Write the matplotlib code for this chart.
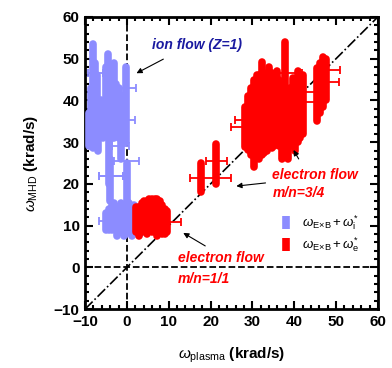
import numpy as np
import matplotlib
matplotlib.use("Agg")
import matplotlib.pyplot as plt
from matplotlib.ticker import MultipleLocator

plt.rcParams['font.family'] = ['Liberation Sans', 'DejaVu Sans']
plt.rcParams['mathtext.fontset'] = 'custom'
plt.rcParams['mathtext.rm'] = 'Liberation Sans'
plt.rcParams['mathtext.it'] = 'Liberation Sans:italic'
plt.rcParams['mathtext.bf'] = 'Liberation Sans:bold'

BLUE = '#8c8cff'
RED = '#ff0000'

# ion flow (blue) - vertical error bars: x, y, yerr
ion_vx = [-8.1, -8.6, -9.0, -7.6, -7.2, -6.8, -6.3, -5.6, -5.0, -4.5, -4.2, -3.6, -3.1,
          -2.6, -2.0, -1.5, -0.9, -0.3, 0.0, -4.0,
          -5.0, -4.3, -3.6, -3.0, -2.4, -2.0, -1.4, -0.8, -0.2, 0.5, 1.2, 1.8,
          2.5, 3.2, 3.8, 4.5]
ion_vy = [41.0, 36.0, 33.0, 44.0, 38.0, 33.0, 36.0, 34.0, 40.0, 42.5, 28.0, 36.0, 40.0,
          38.0, 37.0, 29.0, 36.0, 39.0, 20.0, 21.0,
          11.0, 11.5, 12.0, 12.5, 11.0, 11.5, 12.0, 11.0, 11.5, 12.5, 11.0, 12.0,
          11.5, 10.5, 11.0, 11.0]
ion_vyerr = [12.5, 7.0, 4.0, 5.0, 8.0, 5.0, 4.0, 3.0, 8.0, 8.5, 8.0, 5.0, 9.0,
             6.0, 6.0, 3.0, 5.0, 9.0, 5.0, 5.0,
             2.0, 2.5, 3.0, 3.0, 3.5, 2.5, 3.5, 3.5, 3.5, 3.0, 3.5, 3.0,
             3.0, 2.5, 2.0, 1.8]
# ion flow (blue) - horizontal error bars: x, y, xerr
ion_hx = [-7.5, -3.8, -0.5, -0.5, -1.5, -0.2, -3.8, -5.0, 3.5, -2.5]
ion_hy = [46.6, 21.8, 43.0, 35.4, 29.0, 25.4, 21.8, 11.0, 11.0, 10.8]
ion_hxerr = [1.8, 2.9, 2.6, 2.4, 2.0, 3.0, 2.9, 1.6, 1.5, 1.5]

# electron flow (red) - vertical error bars: x, y, yerr
el_vx = [2.2, 3.0, 3.6, 4.2, 4.8, 5.4, 6.0, 6.6, 7.2, 7.8, 8.4, 9.0, 9.6,
         17.8, 21.4,
         28.3, 29.0, 29.7, 30.4, 31.0, 31.6, 32.2, 32.8, 33.4, 34.0, 34.6, 35.2,
         35.8, 36.4, 37.0, 37.9, 38.5, 39.1, 39.7, 40.3, 40.9, 41.5, 42.0,
         45.5, 46.2, 46.9, 47.5]
el_vy = [11.5, 11.0, 12.0, 12.5, 12.0, 13.0, 12.5, 12.5, 12.0, 12.5, 11.5, 11.0, 11.0,
         21.5, 24.7,
         33.7, 34.6, 35.0, 34.5, 37.0, 36.0, 38.1, 37.0, 36.0, 39.0, 37.5, 37.0,
         38.5, 37.0, 35.0, 45.5, 33.0, 36.0, 37.7, 36.0, 38.5, 38.5, 39.0,
         41.4, 43.0, 44.5, 45.0]
el_vyerr = [3.0, 3.5, 3.5, 3.5, 4.0, 3.5, 4.0, 4.0, 4.5, 3.5, 3.5, 3.0, 2.5,
            3.5, 4.8,
            4.8, 6.4, 8.0, 10.5, 9.0, 10.0, 11.1, 9.5, 8.0, 9.0, 9.0, 8.0,
            8.5, 8.0, 9.0, 8.5, 7.0, 7.0, 7.7, 8.0, 8.5, 7.5, 7.0,
            6.4, 6.0, 6.0, 5.0]
# electron flow (red) - horizontal error bars: x, y, xerr
el_hx = [10.5, 21.4, 20.0, 26.6, 27.2, 38.7, 49.2, 49.0, 43.5, 43.5]
el_hy = [10.8, 25.4, 21.5, 33.7, 35.2, 46.6, 47.4, 44.5, 42.0, 39.7]
el_hxerr = [2.4, 2.6, 4.8, 1.7, 1.3, 3.2, 1.8, 1.8, 1.5, 1.5]

fig = plt.figure(figsize=(3.92, 3.68), dpi=100)
ax = fig.add_axes([0.217, 0.16, 0.747, 0.794])

# reference lines
ax.axvline(0, color='black', ls='--', lw=1.3, zorder=1)
ax.axhline(0, color='black', ls='--', lw=1.3, zorder=1)
ax.plot([-10, 60], [-10, 60], color='black', ls='-.', lw=1.2, zorder=1)

def draw(vx, vy, vyerr, hx, hy, hxerr, color, label):
    ax.errorbar(hx, hy, xerr=hxerr, fmt='none', ecolor=color, elinewidth=1.3,
                capsize=3, capthick=1.3, zorder=2)
    eb = ax.errorbar(vx, vy, yerr=vyerr, fmt='none', ecolor=color, elinewidth=5.5,
                     capsize=0, zorder=3, label=label)
    eb[2][0].set_capstyle('round')
    return eb

h1 = draw(ion_vx, ion_vy, ion_vyerr, ion_hx, ion_hy, ion_hxerr, BLUE,
          r'$\omega_{\mathrm{E\!\times\!B}}\,$+$\,\omega^{*}_{\mathrm{i}}$')
h2 = draw(el_vx, el_vy, el_vyerr, el_hx, el_hy, el_hxerr, RED,
          r'$\omega_{\mathrm{E\!\times\!B}}\,$+$\,\omega^{*}_{\mathrm{e}}$')

# annotations
ax.text(16.7, 53.3, 'ion flow (Z=1)', color='#1a1aa0', fontsize=10,
        fontweight='bold', style='italic', ha='center', va='center')
ax.annotate('', xy=(1.7, 46.2), xytext=(9.3, 50.2),
            arrowprops=dict(arrowstyle='-|>', color='black', lw=0.8, mutation_scale=8))

ax.text(34.8, 20, 'electron flow\nm/n=3/4', color=RED, fontsize=10,
        fontweight='bold', style='italic', ha='left', va='center', linespacing=1.3)
ax.annotate('', xy=(25.5, 19.4), xytext=(33.8, 20.3),
            arrowprops=dict(arrowstyle='-|>', color='black', lw=0.8, mutation_scale=8))
ax.annotate('', xy=(39.5, 28.7), xytext=(41.4, 25.4),
            arrowprops=dict(arrowstyle='-|>', color='black', lw=0.8, mutation_scale=8))

ax.text(12.1, -0.2, 'electron flow\nm/n=1/1', color=RED, fontsize=10,
        fontweight='bold', style='italic', ha='left', va='center', linespacing=1.6)
ax.annotate('', xy=(12.9, 8.6), xytext=(19.3, 4.8),
            arrowprops=dict(arrowstyle='-|>', color='black', lw=0.8, mutation_scale=8))

ax.legend(handles=[h1, h2], loc='upper left', bbox_to_anchor=(0.65, 0.345),
          frameon=False, fontsize=9.5, handlelength=0.8, handletextpad=0.8,
          labelspacing=0.25, borderaxespad=0)

ax.set_xlim(-10, 60)
ax.set_ylim(-10, 60)
ax.xaxis.set_major_locator(MultipleLocator(10))
ax.yaxis.set_major_locator(MultipleLocator(10))
ax.xaxis.set_minor_locator(MultipleLocator(2))
ax.yaxis.set_minor_locator(MultipleLocator(2))
ax.tick_params(which='both', direction='in', top=True, right=True, width=1.5)
ax.tick_params(which='major', length=6, labelsize=11, pad=4)
ax.tick_params(which='minor', length=3)
for lab in ax.get_xticklabels() + ax.get_yticklabels():
    lab.set_fontweight('bold')
for s in ax.spines.values():
    s.set_linewidth(2)

ax.set_xlabel(r'$\omega_{\mathrm{plasma}}$ (krad/s)', fontsize=11, fontweight='bold', labelpad=12)
ax.set_ylabel(r'$\omega_{\mathrm{MHD}}$ (krad/s)', fontsize=11, fontweight='bold', labelpad=10)

fig.savefig('out.png', dpi=100)
